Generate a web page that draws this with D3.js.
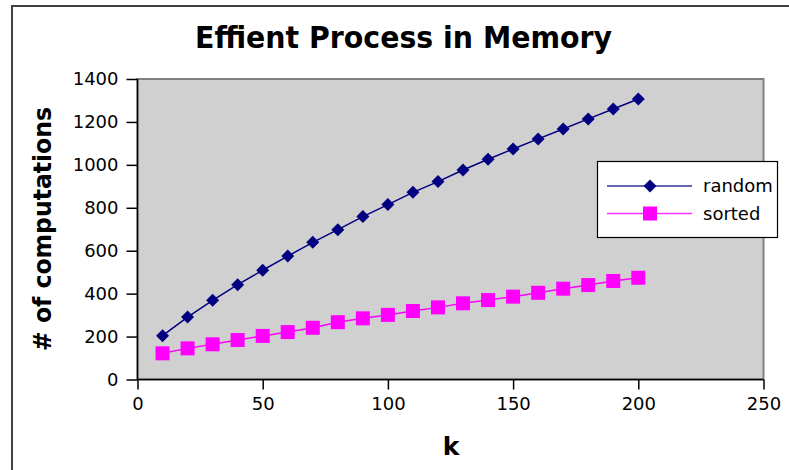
<!DOCTYPE html>
<html>
<head>
<meta charset="utf-8">
<script src="https://cdn.jsdelivr.net/npm/d3@7"></script>
<style>
  html, body { margin: 0; padding: 0; background: #ffffff; }
  svg { display: block; }
</style>
</head>
<body>
<script>
// ---- data ----
const kValues = [10,20,30,40,50,60,70,80,90,100,110,120,130,140,150,160,170,180,190,200];
const randomValues = [204,291,369,442,509,575,639,698,759,815,872,922,976,1026,1074,1121,1167,1214,1260,1307];
const sortedValues = [122,145,164,184,203,221,241,267,285,301,319,336,355,370,386,404,423,440,459,474];
const seriesNames = ["random", "sorted"];
const xTicks = [0,50,100,150,200,250];
const yTicks = [0,200,400,600,800,1000,1200,1400];
const titleText = "Effient Process in Memory";
const xTitle = "k";
const yTitle = "# of computations";

const W = 789, H = 470;
const plot = {left: 137.5, right: 763.5, top: 79, bottom: 379.5};
const font = "'DejaVu Sans', Verdana, sans-serif";

const svg = d3.select("body").append("svg").attr("width", W).attr("height", H);

// outer border
svg.append("rect").attr("x", 12).attr("y", 6).attr("width", 820).attr("height", 520)
  .attr("fill", "#ffffff").attr("stroke", "#404040").attr("stroke-width", 2);

const x = d3.scaleLinear().domain([0, 250]).range([plot.left, plot.right]);
const y = d3.scaleLinear().domain([0, 1400]).range([plot.bottom, plot.top]);

// plot area
svg.append("rect").attr("x", plot.left).attr("y", plot.top)
  .attr("width", plot.right - plot.left).attr("height", plot.bottom - plot.top)
  .attr("fill", "#d0d0d0").attr("stroke", "#808080").attr("stroke-width", 2);

// axes
const xAxis = svg.append("g").attr("transform", `translate(0,${plot.bottom})`)
  .call(d3.axisBottom(x).tickValues(xTicks).tickSize(10).tickPadding(8).tickFormat(d3.format("d")));
const yAxis = svg.append("g").attr("transform", `translate(${plot.left},0)`)
  .call(d3.axisLeft(y).tickValues(yTicks).tickSize(11).tickPadding(8).tickFormat(d3.format("d")));
[xAxis, yAxis].forEach(a => {
  a.select(".domain").attr("stroke", "#000").attr("stroke-width", 1.5);
  a.selectAll(".tick line").attr("stroke", "#000").attr("stroke-width", 1.5);
  a.selectAll(".tick text").attr("fill", "#000").style("font-family", font).style("font-size", "18px");
});
// remove outer tick-ends from domain path
xAxis.select(".domain").attr("d", `M${plot.left},0H${plot.right}`);
yAxis.select(".domain").attr("d", `M0,${plot.top}V${plot.bottom}`);

// series
const rData = kValues.map((k, i) => ({k, v: randomValues[i]}));
const sData = kValues.map((k, i) => ({k, v: sortedValues[i]}));
const line = d3.line().x(d => x(d.k)).y(d => y(d.v));

svg.append("path").datum(rData).attr("d", line).attr("fill", "none")
  .attr("stroke", "#000080").attr("stroke-width", 1.5);
svg.append("path").datum(sData).attr("d", line).attr("fill", "none")
  .attr("stroke", "#ff00ff").attr("stroke-width", 1.5);

const diamond = s => `M0,${-s}L${s},0L0,${s}L${-s},0Z`;
svg.append("g").selectAll("path").data(rData).join("path")
  .attr("transform", d => `translate(${x(d.k)},${y(d.v)})`)
  .attr("d", diamond(6.5)).attr("fill", "#000080");
svg.append("g").selectAll("rect").data(sData).join("rect")
  .attr("x", d => x(d.k) - 7).attr("y", d => y(d.v) - 7)
  .attr("width", 14).attr("height", 14).attr("fill", "#ff00ff");

// legend
const lg = svg.append("g");
lg.append("rect").attr("x", 597.5).attr("y", 161.5).attr("width", 180).attr("height", 76)
  .attr("fill", "#ffffff").attr("stroke", "#000").attr("stroke-width", 1.2);
const rows = [
  {name: seriesNames[0], color: "#000080", line: "#333399", y: 186},
  {name: seriesNames[1], color: "#ff00ff", line: "#ff33ff", y: 213.5}
];
rows.forEach((r, i) => {
  lg.append("line").attr("x1", 607).attr("x2", 692).attr("y1", r.y).attr("y2", r.y)
    .attr("stroke", r.line).attr("stroke-width", 1.5);
  if (i === 0) {
    lg.append("path").attr("transform", `translate(650,${r.y})`).attr("d", diamond(6.5)).attr("fill", r.color);
  } else {
    lg.append("rect").attr("x", 643).attr("y", r.y - 7).attr("width", 14).attr("height", 14).attr("fill", r.color);
  }
  lg.append("text").attr("x", 703).attr("y", r.y + 6).text(r.name)
    .style("font-family", font).style("font-size", "18px").attr("fill", "#000");
});

// titles
svg.append("text").attr("x", 403.5).attr("y", 47.5).attr("text-anchor", "middle")
  .attr("textLength", 417).attr("lengthAdjust", "spacingAndGlyphs")
  .style("font-family", font).style("font-weight", "bold").style("font-size", "30px")
  .text(titleText);
svg.append("text").attr("x", 451).attr("y", 455).attr("text-anchor", "middle")
  .style("font-family", font).style("font-weight", "bold").style("font-size", "25px")
  .text(xTitle);
svg.append("text").attr("transform", "translate(51,229) rotate(-90)").attr("text-anchor", "middle")
  .attr("textLength", 244).attr("lengthAdjust", "spacingAndGlyphs")
  .style("font-family", font).style("font-weight", "bold").style("font-size", "24px")
  .text(yTitle);
</script>
</body>
</html>
